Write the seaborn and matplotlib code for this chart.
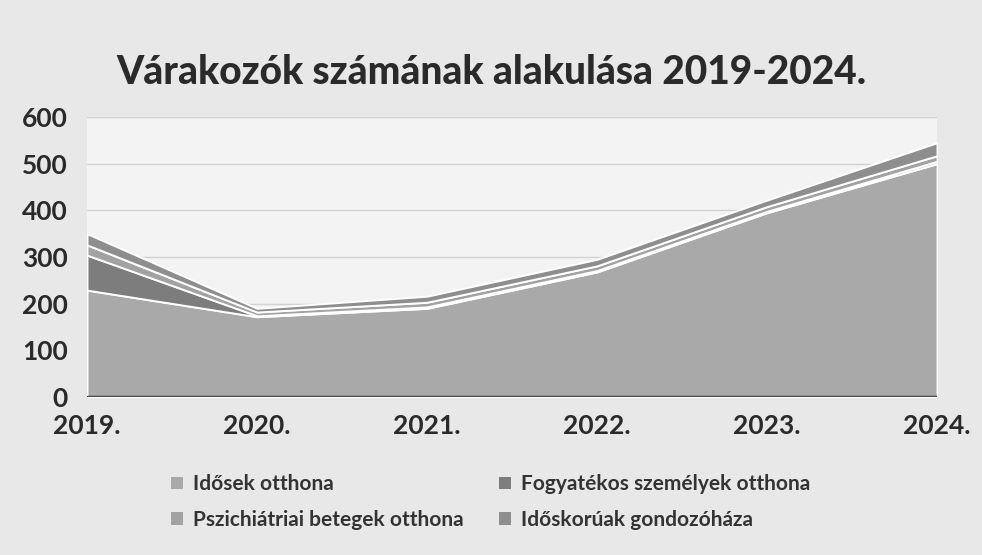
import matplotlib.pyplot as plt
import seaborn as sns

years = ['2019.', '2020.', '2021.', '2022.', '2023.', '2024.']
idosek = [229, 172, 190, 268, 395, 500]
fogyatekos = [75, 2, 3, 3, 3, 5]
pszichiatriai = [22, 8, 10, 10, 10, 12]
gondozohaza = [24, 8, 13, 14, 14, 28]
labels = ['Idősek otthona', 'Fogyatékos személyek otthona',
          'Pszichiátriai betegek otthona', 'Időskorúak gondozóháza']

sns.set_style('white')
plt.rcParams['font.family'] = ['Lato', 'DejaVu Sans']
plt.rcParams['font.weight'] = 'bold'

colors = ['#a9a9a9', '#7d7d7d', '#a2a2a2', '#8e8e8e']

fig = plt.figure(figsize=(9.82, 5.55), dpi=100, facecolor='#e8e8e8')
ax = fig.add_axes([0.0886, 0.2847, 0.8656, 0.5045])
ax.set_facecolor('#f3f3f3')

x = list(range(len(years)))
ax.stackplot(x, idosek, fogyatekos, pszichiatriai, gondozohaza,
             colors=colors, labels=labels, edgecolor='white', linewidth=1.4,
             zorder=2)

ax.set_xlim(0, len(years) - 1)
ax.set_ylim(0, 600)
ax.set_yticks(range(0, 601, 100))
ax.set_xticks(x)
ax.set_xticklabels(years)
ax.tick_params(axis='both', labelsize=19, colors='#2a2a2a', length=0)
ax.tick_params(axis='y', pad=14)
ax.tick_params(axis='x', pad=12)
for lab in ax.get_xticklabels() + ax.get_yticklabels():
    lab.set_fontweight('bold')
ax.grid(axis='y', color='#d2d2d2', linewidth=1, zorder=1)
ax.axhline(0, color='#4a4a4a', linewidth=2.5, zorder=3)
sns.despine(ax=ax, left=True, bottom=True)

fig.text(0.5, 0.87, 'Várakozók számának alakulása 2019-2024.',
         ha='center', va='center', fontsize=28, fontweight='black', color='#2a2a2a')

handles, labs = ax.get_legend_handles_labels()
order = [0, 2, 1, 3]
leg = fig.legend([handles[i] for i in order], [labs[i] for i in order], ncol=2,
                 loc='center', bbox_to_anchor=(0.5, 0.095),
                 frameon=False, fontsize=15, handlelength=0.55, handleheight=0.55,
                 columnspacing=1.7, handletextpad=0.5, labelspacing=0.75)
for h in leg.legend_handles:
    h.set_edgecolor('none')
for t in leg.get_texts():
    t.set_color('#333333')
    t.set_fontweight('bold')

fig.savefig('out.png', dpi=100, facecolor=fig.get_facecolor())
